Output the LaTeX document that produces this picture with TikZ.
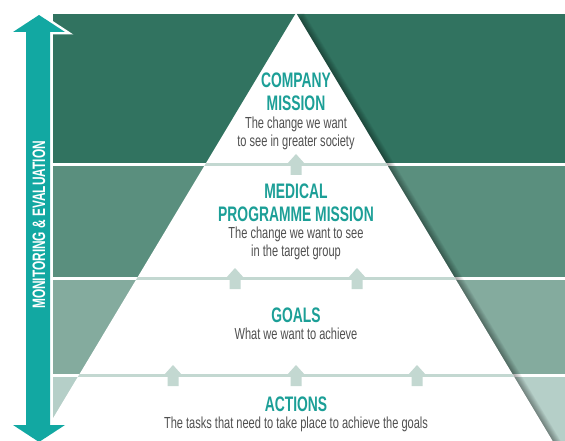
\documentclass[tikz,border=0pt]{standalone}
\usepackage{fontspec}
\usepackage{tikz}
\usetikzlibrary{positioning}
\newfontfamily\headfont[FakeStretch=0.66]{Liberation Sans}
\newfontfamily\bodyfont[FakeStretch=0.69]{Liberation Sans}
\definecolor{bandA}{HTML}{317360}
\definecolor{bandB}{HTML}{5A8F7E}
\definecolor{bandC}{HTML}{84AB9E}
\definecolor{bandD}{HTML}{B5CFC8}
\definecolor{arrowteal}{HTML}{12A8A2}
\definecolor{headteal}{HTML}{1C9F97}
\definecolor{desctext}{HTML}{505050}
\definecolor{sepgreen}{HTML}{C3D8D1}
\tikzset{
  heading/.style={font=\headfont\bfseries\fontsize{21}{23}\selectfont, text=headteal, align=center, inner sep=0pt},
  subtext/.style={font=\bodyfont\fontsize{16}{18}\selectfont, text=desctext, align=center, inner sep=0pt},
  sidetext/.style={font=\headfont\bfseries\fontsize{18}{20}\selectfont, text=white, inner sep=0pt},
  sepline/.style={draw=sepgreen, line width=3pt},
  bigarrow/.style={fill=arrowteal,
                   preaction={draw, white, line width=5pt}}, % halo against the bands
  pics/uparrow/.style={code={
    \fill[sepgreen] (-5.5,11) -- (-5.5,0) -- (-9,0) -- (0,-10) -- (9,0) -- (5.5,0) -- (5.5,11) -- cycle;}},
}
\begin{document}
\begin{tikzpicture}[x=1pt,y=-1pt]
  \useasboundingbox (0,0) rectangle (565,441);
  \clip (0,0) rectangle (565,441);

  \fill[bandA] (53,14) rectangle (565,163);
  \fill[bandB] (53,166) rectangle (565,277);
  \fill[bandC] (53,280) rectangle (565,374);
  \fill[bandD] (53,377) rectangle (565,441);

  % soft shadow along the right side
  \foreach \s in {1,...,8}
    \fill[black, opacity=0.05, xshift=\s] (296,13) -- (558,450) -- (34,450) -- cycle;
  \fill[white] (296,13) -- (558,450) -- (34,450) -- cycle;

  \begin{scope}
    \clip (296,13) -- (558,450) -- (34,450) -- cycle;
    \draw[sepline] (0,164.5) -- (565,164.5);
    \draw[sepline] (0,278.5) -- (565,278.5);
    \draw[sepline] (0,375.5) -- (565,375.5);
  \end{scope}

  \pic at (296,164) {uparrow};
  \pic at (235,278) {uparrow};
  \pic at (357,278) {uparrow};
  \pic at (173,375) {uparrow};
  \pic at (296,375) {uparrow};
  \pic at (417,375) {uparrow};

  \path[bigarrow] (39,15) -- (65,32) -- (50,32) -- (50,425) -- (65,425) -- (39,442)
    -- (13,425) -- (26,425) -- (26,32) -- (13,32) -- cycle;
  \node[sidetext, rotate=90] (monitor) at (39,225) {MONITORING \& EVALUATION};

  \node[heading] (title1) at (296,92) {COMPANY\\MISSION};
  \node[subtext, below=6pt of title1] (sub1) {The change we want\\to see in greater society};
  \node[heading] (title2) at (296,202.5) {MEDICAL\\PROGRAMME MISSION};
  \node[subtext, below=5pt of title2] (sub2) {The change we want to see\\in the target group};
  \node[heading] (title3) at (296,315) {GOALS};
  \node[subtext, below=5pt of title3] (sub3) {What we want to achieve};
  \node[heading] (title4) at (296,404) {ACTIONS};
  \node[subtext, below=5pt of title4] (sub4) {The tasks that need to take place to achieve the goals};
\end{tikzpicture}
\end{document}
